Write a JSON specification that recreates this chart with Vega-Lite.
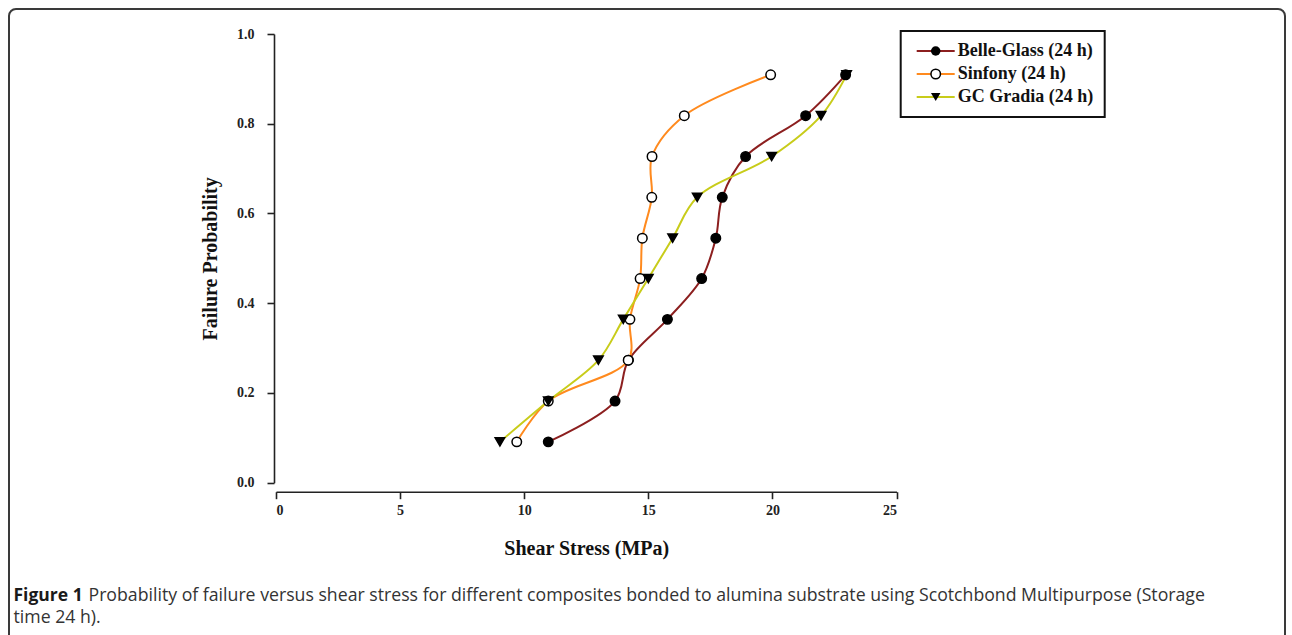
{
  "$schema": "https://vega.github.io/schema/vega-lite/v6.json",
  "width": 620.5,
  "height": 448.7,
  "autosize": "none",
  "padding": {"left": 276, "top": 34, "right": 395.5, "bottom": 152.3},
  "background": "white",
  "config": {"view": {"stroke": null}, "font": "Liberation Serif"},
  "data": {
    "values": [
      {"series": "Belle-Glass (24 h)", "stress": 10.97, "p": 0.091},
      {"series": "Belle-Glass (24 h)", "stress": 13.66, "p": 0.182},
      {"series": "Belle-Glass (24 h)", "stress": 14.2, "p": 0.273},
      {"series": "Belle-Glass (24 h)", "stress": 15.77, "p": 0.364},
      {"series": "Belle-Glass (24 h)", "stress": 17.15, "p": 0.455},
      {"series": "Belle-Glass (24 h)", "stress": 17.72, "p": 0.545},
      {"series": "Belle-Glass (24 h)", "stress": 17.98, "p": 0.636},
      {"series": "Belle-Glass (24 h)", "stress": 18.92, "p": 0.727},
      {"series": "Belle-Glass (24 h)", "stress": 21.34, "p": 0.818},
      {"series": "Belle-Glass (24 h)", "stress": 22.95, "p": 0.909},
      {"series": "Sinfony (24 h)", "stress": 9.7, "p": 0.091},
      {"series": "Sinfony (24 h)", "stress": 10.97, "p": 0.182},
      {"series": "Sinfony (24 h)", "stress": 14.19, "p": 0.273},
      {"series": "Sinfony (24 h)", "stress": 14.26, "p": 0.364},
      {"series": "Sinfony (24 h)", "stress": 14.67, "p": 0.455},
      {"series": "Sinfony (24 h)", "stress": 14.76, "p": 0.545},
      {"series": "Sinfony (24 h)", "stress": 15.14, "p": 0.636},
      {"series": "Sinfony (24 h)", "stress": 15.15, "p": 0.727},
      {"series": "Sinfony (24 h)", "stress": 16.45, "p": 0.818},
      {"series": "Sinfony (24 h)", "stress": 19.93, "p": 0.909},
      {"series": "GC Gradia (24 h)", "stress": 9.02, "p": 0.091},
      {"series": "GC Gradia (24 h)", "stress": 10.97, "p": 0.182},
      {"series": "GC Gradia (24 h)", "stress": 12.99, "p": 0.273},
      {"series": "GC Gradia (24 h)", "stress": 13.99, "p": 0.364},
      {"series": "GC Gradia (24 h)", "stress": 15.0, "p": 0.455},
      {"series": "GC Gradia (24 h)", "stress": 15.98, "p": 0.545},
      {"series": "GC Gradia (24 h)", "stress": 16.97, "p": 0.636},
      {"series": "GC Gradia (24 h)", "stress": 19.97, "p": 0.727},
      {"series": "GC Gradia (24 h)", "stress": 21.96, "p": 0.818},
      {"series": "GC Gradia (24 h)", "stress": 22.99, "p": 0.909}
    ]
  },
  "resolve": {"axis": {"x": "independent", "y": "independent"}},
  "layer": [
    {
      "mark": {"type": "line", "interpolate": "catmull-rom", "strokeWidth": 2},
      "encoding": {
        "x": {
          "field": "stress",
          "type": "quantitative",
          "scale": {"domain": [0, 25], "nice": false, "zero": false},
          "axis": {
            "orient": "bottom",
            "values": [0, 5, 10, 15, 20, 25],
            "format": "d",
            "offset": 9,
            "grid": false,
            "domainColor": "#222222",
            "domainWidth": 1.6,
            "tickColor": "#222222",
            "tickWidth": 1.6,
            "tickSize": 7,
            "labelFont": "Liberation Serif",
            "labelFontSize": 14,
            "labelFontWeight": "bold",
            "labelColor": "#222222",
            "labelPadding": 5,
            "title": "Shear Stress (MPa)",
            "titleFont": "Liberation Serif",
            "titleFontSize": 20,
            "titleFontWeight": "bold",
            "titleColor": "#111111",
            "titlePadding": 21
          }
        },
        "y": {
          "field": "p",
          "type": "quantitative",
          "scale": {"domain": [0, 1], "nice": false},
          "axis": {
            "orient": "left",
            "values": [0, 0.2, 0.4, 0.6, 0.8, 1],
            "format": ".1f",
            "offset": 2,
            "grid": false,
            "domainColor": "#222222",
            "domainWidth": 1.6,
            "tickColor": "#222222",
            "tickWidth": 1.6,
            "tickSize": 7,
            "labelFont": "Liberation Serif",
            "labelFontSize": 14,
            "labelFontWeight": "bold",
            "labelColor": "#222222",
            "labelPadding": 13,
            "title": "Failure Probability",
            "titleFont": "Liberation Serif",
            "titleFontSize": 20,
            "titleFontWeight": "bold",
            "titleColor": "#111111",
            "titlePadding": 16
          }
        },
        "color": {
          "field": "series",
          "type": "nominal",
          "scale": {
            "domain": ["Belle-Glass (24 h)", "Sinfony (24 h)", "GC Gradia (24 h)"],
            "range": ["#8c1f1f", "#ff8a1e", "#c8cc1a"]
          },
          "legend": {
            "orient": "none",
            "legendX": 624.7,
            "legendY": -3,
            "title": null,
            "symbolType": "M-3.8,0H3.8",
            "symbolSize": 100,
            "symbolStrokeWidth": 2,
            "symbolOffset": 15,
            "labelFont": "Liberation Serif",
            "labelFontSize": 18,
            "labelFontWeight": "bold",
            "labelColor": "#111111",
            "labelOffset": 13,
            "rowPadding": 5,
            "padding": 11,
            "strokeColor": "#111111",
            "fillColor": "white",
            "encode": {"legend": {"update": {"strokeWidth": {"value": 2}}}}
          }
        },
        "order": {"field": "p"}
      }
    },
    {
      "mark": {"type": "point", "filled": true, "stroke": "black", "strokeWidth": 1.5, "opacity": 1, "size": 90},
      "encoding": {
        "x": {
          "field": "stress",
          "type": "quantitative",
          "scale": {"domain": [0, 25], "nice": false, "zero": false},
          "axis": {
            "orient": "bottom",
            "domain": false,
            "ticks": false,
            "labels": false,
            "grid": false,
            "title": "Probability of failure versus shear stress for different composites bonded to alumina substrate using Scotchbond Multipurpose (Storage",
            "titleFont": "Open Sans",
            "titleFontSize": 17.7,
            "titleFontWeight": "normal",
            "titleColor": "#333333",
            "titleAngle": 0,
            "titleAlign": "left",
            "titleBaseline": "middle",
            "titleX": -188,
            "titleY": 112.3
          }
        },
        "y": {
          "field": "p",
          "type": "quantitative",
          "scale": {"domain": [0, 1], "nice": false},
          "axis": {
            "orient": "left",
            "domain": false,
            "ticks": false,
            "labels": false,
            "grid": false,
            "title": "Figure 1",
            "titleFont": "Open Sans",
            "titleFontSize": 17.5,
            "titleFontWeight": "bold",
            "titleColor": "#1a1a1a",
            "titleAngle": 0,
            "titleAlign": "left",
            "titleBaseline": "middle",
            "titleX": -263,
            "titleY": 561
          }
        },
        "shape": {
          "field": "series",
          "type": "nominal",
          "sort": ["Belle-Glass (24 h)", "Sinfony (24 h)", "GC Gradia (24 h)"],
          "scale": {"range": ["circle", "circle", "triangle-down"]},
          "legend": {
            "orient": "none",
            "legendX": 624.7,
            "legendY": -3,
            "title": null,
            "symbolSize": 90,
            "symbolStrokeColor": "black",
            "symbolStrokeWidth": 1.5,
            "symbolOffset": 15,
            "labelFont": "Liberation Serif",
            "labelFontSize": 18,
            "labelFontWeight": "bold",
            "labelColor": "transparent",
            "labelOffset": 13,
            "rowPadding": 5,
            "padding": 11
          }
        },
        "fill": {
          "field": "series",
          "type": "nominal",
          "sort": ["Belle-Glass (24 h)", "Sinfony (24 h)", "GC Gradia (24 h)"],
          "scale": {"range": ["black", "white", "black"]},
          "legend": {
            "orient": "none",
            "legendX": 624.7,
            "legendY": 20,
            "values": ["Sinfony (24 h)"],
            "title": null,
            "symbolType": "circle",
            "symbolSize": 90,
            "symbolStrokeColor": "black",
            "symbolStrokeWidth": 1.5,
            "symbolOffset": 15,
            "labelFont": "Liberation Serif",
            "labelFontSize": 18,
            "labelFontWeight": "bold",
            "labelColor": "transparent",
            "labelOffset": 13,
            "rowPadding": 5,
            "padding": 11
          }
        }
      }
    },
    {
      "mark": {"type": "point", "opacity": 0},
      "encoding": {
        "x": {
          "field": "stress",
          "type": "quantitative",
          "scale": {"domain": [0, 25], "nice": false, "zero": false},
          "axis": {
            "orient": "bottom",
            "domain": false,
            "ticks": false,
            "labels": false,
            "grid": false,
            "title": "time 24 h).",
            "titleFont": "Open Sans",
            "titleFontSize": 17.7,
            "titleFontWeight": "normal",
            "titleColor": "#333333",
            "titleAngle": 0,
            "titleAlign": "left",
            "titleBaseline": "middle",
            "titleX": -263,
            "titleY": 134.3
          }
        },
        "y": {
          "field": "p",
          "type": "quantitative",
          "scale": {"domain": [0, 1], "nice": false},
          "axis": null
        },
        "stroke": {
          "field": "p",
          "type": "quantitative",
          "scale": {"range": ["rgba(255,255,255,0)", "rgba(255,255,255,0)"]},
          "legend": {
            "orient": "none",
            "legendX": -267,
            "legendY": -25,
            "direction": "horizontal",
            "gradientLength": 1276,
            "gradientThickness": 650,
            "gradientStrokeWidth": 0,
            "labelExpr": "''",
            "labelOpacity": 0,
            "title": null,
            "padding": 0,
            "strokeColor": "#3a3a3a",
            "cornerRadius": 7,
            "encode": {
              "legend": {"update": {"strokeWidth": {"value": 2}}},
              "gradient": {"update": {"opacity": {"value": 0}}}
            }
          }
        }
      }
    }
  ]
}
